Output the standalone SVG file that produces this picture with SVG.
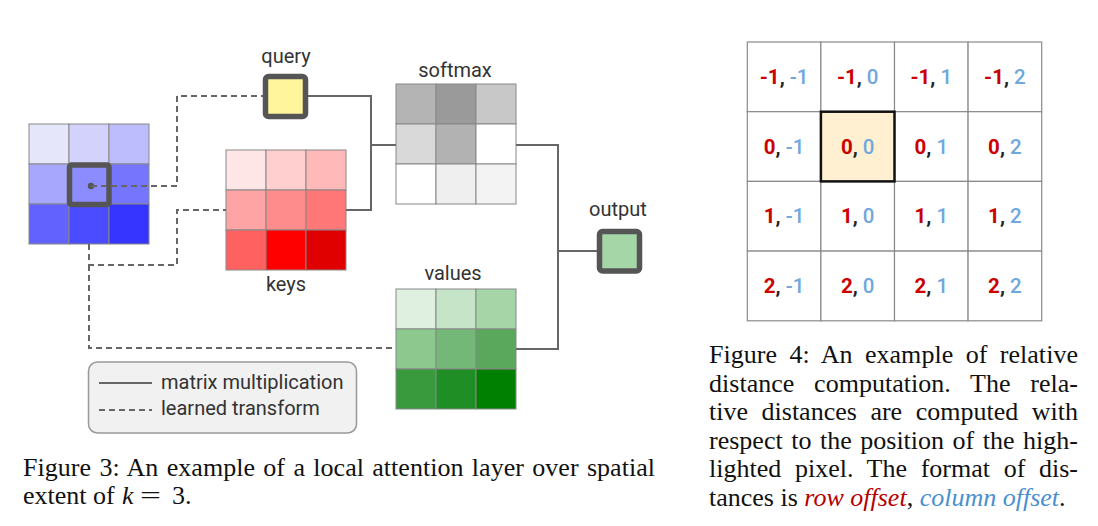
<svg xmlns="http://www.w3.org/2000/svg" width="1098" height="526" viewBox="0 0 1098 526">
<style>
.lbl{font-family:Roboto,"Liberation Sans",sans-serif;font-size:20px;fill:#333;text-anchor:middle}
.leg{font-family:Roboto,"Liberation Sans",sans-serif;font-size:20px;fill:#333}
.cell{stroke:#888;stroke-width:1}
.solid{fill:none;stroke:#666;stroke-width:2}
.dash{fill:none;stroke:#666;stroke-width:2;stroke-dasharray:6 4}
.box{stroke:#555;stroke-width:5.5}
.cap{font-family:"Liberation Serif","Times New Roman",serif;font-size:26px;fill:#111}
.g{stroke:#8a8a8a;stroke-width:1.2;fill:#fff}
.num{font-family:Roboto,"Liberation Sans",sans-serif;font-size:20.5px;text-anchor:middle}
.r{fill:#CC0000;font-weight:700}
.b{fill:#6FA8DC;font-weight:500}
.k{fill:#222;font-weight:700}
</style>

<g id="input">
<rect class="cell" x="29" y="124" width="40" height="40" fill="#E6E6FA"/>
<rect class="cell" x="69" y="124" width="40" height="40" fill="#D2D2FC"/>
<rect class="cell" x="109" y="124" width="40" height="40" fill="#BDBDFD"/>
<rect class="cell" x="29" y="164" width="40" height="40" fill="#A7A7FD"/>
<rect class="cell" x="69" y="164" width="40" height="40" fill="#8C8CFF"/>
<rect class="cell" x="109" y="164" width="40" height="40" fill="#7575FE"/>
<rect class="cell" x="29" y="204" width="40" height="40" fill="#6262FF"/>
<rect class="cell" x="69" y="204" width="40" height="40" fill="#4B4BFF"/>
<rect class="cell" x="109" y="204" width="40" height="40" fill="#3535FF"/>
<rect class="box" x="69.5" y="165" width="39.5" height="39.5" rx="2" fill="none"/>
<circle cx="91" cy="186" r="3.2" fill="#555"/>
</g>

<g id="query">
<text class="lbl" x="286" y="63">query</text>
<rect class="box" x="265.5" y="76.5" width="40" height="40" rx="3" fill="#FFF59D"/>
</g>

<g id="keys">
<rect class="cell" x="226" y="150" width="40" height="40" fill="#FFE6E6"/>
<rect class="cell" x="266" y="150" width="40" height="40" fill="#FFCFCF"/>
<rect class="cell" x="306" y="150" width="40" height="40" fill="#FFB9B9"/>
<rect class="cell" x="226" y="190" width="40" height="40" fill="#FFA4A4"/>
<rect class="cell" x="266" y="190" width="40" height="40" fill="#FF8C8C"/>
<rect class="cell" x="306" y="190" width="40" height="40" fill="#FF7777"/>
<rect class="cell" x="226" y="230" width="40" height="40" fill="#FF6060"/>
<rect class="cell" x="266" y="230" width="40" height="40" fill="#FF0000"/>
<rect class="cell" x="306" y="230" width="40" height="40" fill="#E00000"/>
<text class="lbl" x="286" y="291">keys</text>
</g>

<g id="softmax">
<text class="lbl" x="455" y="77">softmax</text>
<rect class="cell" x="396" y="84" width="40" height="40" fill="#B4B4B4"/>
<rect class="cell" x="436" y="84" width="40" height="40" fill="#9A9A9A"/>
<rect class="cell" x="476" y="84" width="40" height="40" fill="#C8C8C8"/>
<rect class="cell" x="396" y="124" width="40" height="40" fill="#D9D9D9"/>
<rect class="cell" x="436" y="124" width="40" height="40" fill="#B2B2B2"/>
<rect class="cell" x="476" y="124" width="40" height="40" fill="#FFFFFF"/>
<rect class="cell" x="396" y="164" width="40" height="40" fill="#FFFFFF"/>
<rect class="cell" x="436" y="164" width="40" height="40" fill="#EFEFEF"/>
<rect class="cell" x="476" y="164" width="40" height="40" fill="#F3F3F3"/>
</g>

<g id="values">
<text class="lbl" x="453" y="280">values</text>
<rect class="cell" x="396" y="289" width="40" height="40" fill="#DFF0E0"/>
<rect class="cell" x="436" y="289" width="40" height="40" fill="#C6E4C7"/>
<rect class="cell" x="476" y="289" width="40" height="40" fill="#A6D6A7"/>
<rect class="cell" x="396" y="329" width="40" height="40" fill="#8DC88F"/>
<rect class="cell" x="436" y="329" width="40" height="40" fill="#74B877"/>
<rect class="cell" x="476" y="329" width="40" height="40" fill="#59A85C"/>
<rect class="cell" x="396" y="369" width="40" height="40" fill="#389A3C"/>
<rect class="cell" x="436" y="369" width="40" height="40" fill="#1F8E24"/>
<rect class="cell" x="476" y="369" width="40" height="40" fill="#008000"/>
</g>

<g id="output">
<text class="lbl" x="618" y="216">output</text>
<rect class="box" x="599.5" y="231.5" width="40" height="39.5" rx="3" fill="#A5D6A7"/>
</g>

<g id="connectors">
<path class="dash" d="M91,186 H177 V96 H263"/>
<path class="dash" d="M89,244 V265 H177 V210 H226"/>
<path class="dash" d="M89,265 V348 H396"/>
<path class="solid" d="M308,96 H371 V210 H346"/>
<path class="solid" d="M371,145 H396"/>
<path class="solid" d="M516,145 H558 V349 H516"/>
<path class="solid" d="M558,251 H597"/>
</g>

<g id="legend">
<rect x="88.5" y="362" width="268" height="71" rx="9" fill="#F1F1F1" stroke="#999" stroke-width="1.5"/>
<line class="solid" x1="99" y1="383" x2="152" y2="383"/>
<line class="dash" x1="99" y1="410" x2="152" y2="410"/>
<text class="leg" x="161" y="389">matrix multiplication</text>
<text class="leg" x="161" y="415">learned transform</text>
</g>

<g id="caption3">
<text class="cap" x="23" y="476" textLength="632" lengthAdjust="spacing" word-spacing="1.8">Figure 3: An example of a local attention layer over spatial</text>
<text class="cap" y="504"><tspan x="23">extent of</tspan><tspan x="122" font-style="italic">k</tspan><tspan x="140" textLength="21" lengthAdjust="spacingAndGlyphs">=</tspan><tspan x="172">3.</tspan></text>
</g>

<g id="grid4">
<rect class="g" x="747.3" y="42" width="73.6" height="69.7"/>
<rect class="g" x="820.9" y="42" width="73.6" height="69.7"/>
<rect class="g" x="894.5" y="42" width="73.6" height="69.7"/>
<rect class="g" x="968.1" y="42" width="73.6" height="69.7"/>
<rect class="g" x="747.3" y="111.7" width="73.6" height="69.7"/>
<rect class="g" x="894.5" y="111.7" width="73.6" height="69.7"/>
<rect class="g" x="968.1" y="111.7" width="73.6" height="69.7"/>
<rect class="g" x="747.3" y="181.4" width="73.6" height="69.7"/>
<rect class="g" x="820.9" y="181.4" width="73.6" height="69.7"/>
<rect class="g" x="894.5" y="181.4" width="73.6" height="69.7"/>
<rect class="g" x="968.1" y="181.4" width="73.6" height="69.7"/>
<rect class="g" x="747.3" y="251.1" width="73.6" height="69.7"/>
<rect class="g" x="820.9" y="251.1" width="73.6" height="69.7"/>
<rect class="g" x="894.5" y="251.1" width="73.6" height="69.7"/>
<rect class="g" x="968.1" y="251.1" width="73.6" height="69.7"/>
<rect x="820.9" y="111.7" width="73.6" height="69.7" fill="#FEF0D0" stroke="#111" stroke-width="2.5"/>

<text class="num" x="784.1" y="84"><tspan class="r">-1</tspan><tspan class="k">, </tspan><tspan class="b">-1</tspan></text>
<text class="num" x="857.7" y="84"><tspan class="r">-1</tspan><tspan class="k">, </tspan><tspan class="b">0</tspan></text>
<text class="num" x="931.3" y="84"><tspan class="r">-1</tspan><tspan class="k">, </tspan><tspan class="b">1</tspan></text>
<text class="num" x="1004.9" y="84"><tspan class="r">-1</tspan><tspan class="k">, </tspan><tspan class="b">2</tspan></text>

<text class="num" x="784.1" y="153.5"><tspan class="r">0</tspan><tspan class="k">, </tspan><tspan class="b">-1</tspan></text>
<text class="num" x="857.7" y="153.5"><tspan class="r">0</tspan><tspan class="k">, </tspan><tspan class="b">0</tspan></text>
<text class="num" x="931.3" y="153.5"><tspan class="r">0</tspan><tspan class="k">, </tspan><tspan class="b">1</tspan></text>
<text class="num" x="1004.9" y="153.5"><tspan class="r">0</tspan><tspan class="k">, </tspan><tspan class="b">2</tspan></text>

<text class="num" x="784.1" y="223"><tspan class="r">1</tspan><tspan class="k">, </tspan><tspan class="b">-1</tspan></text>
<text class="num" x="857.7" y="223"><tspan class="r">1</tspan><tspan class="k">, </tspan><tspan class="b">0</tspan></text>
<text class="num" x="931.3" y="223"><tspan class="r">1</tspan><tspan class="k">, </tspan><tspan class="b">1</tspan></text>
<text class="num" x="1004.9" y="223"><tspan class="r">1</tspan><tspan class="k">, </tspan><tspan class="b">2</tspan></text>

<text class="num" x="784.1" y="292.5"><tspan class="r">2</tspan><tspan class="k">, </tspan><tspan class="b">-1</tspan></text>
<text class="num" x="857.7" y="292.5"><tspan class="r">2</tspan><tspan class="k">, </tspan><tspan class="b">0</tspan></text>
<text class="num" x="931.3" y="292.5"><tspan class="r">2</tspan><tspan class="k">, </tspan><tspan class="b">1</tspan></text>
<text class="num" x="1004.9" y="292.5"><tspan class="r">2</tspan><tspan class="k">, </tspan><tspan class="b">2</tspan></text>
</g>

<g id="caption4">
<text class="cap" x="709" y="363" textLength="369" lengthAdjust="spacing" word-spacing="5.8">Figure 4: An example of relative</text>
<text class="cap" x="709" y="391.5" textLength="369" lengthAdjust="spacing" word-spacing="13.2">distance computation. The rela-</text>
<text class="cap" x="709" y="420" textLength="369" lengthAdjust="spacing" word-spacing="7">tive distances are computed with</text>
<text class="cap" x="709" y="448.5" textLength="369" lengthAdjust="spacing" word-spacing="2">respect to the position of the high-</text>
<text class="cap" x="709" y="477" textLength="369" lengthAdjust="spacing" word-spacing="7.1">lighted pixel. The format of dis-</text>
<text class="cap" x="709" y="505.5">tances is <tspan font-style="italic" fill="#B40000">row offset</tspan>, <tspan font-style="italic" fill="#4A8FD0">column offset</tspan>.</text>
</g>
</svg>
